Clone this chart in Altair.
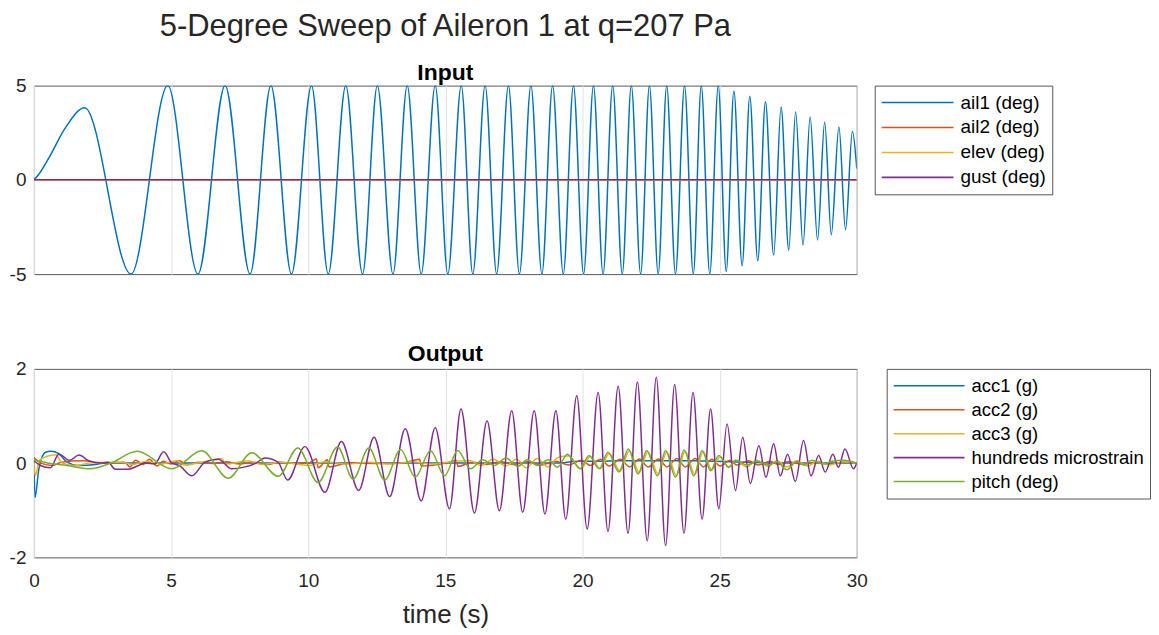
import altair as alt
import pandas as pd

FONT = "Liberation Sans"
TITLE = "5-Degree Sweep of Aileron 1 at q=207 Pa"
X_TITLE = "time (s)"
INPUT_NAMES = ["ail1 (deg)", "ail2 (deg)", "elev (deg)", "gust (deg)"]
OUTPUT_NAMES = ["acc1 (g)", "acc2 (g)", "acc3 (g)", "hundreds microstrain", "pitch (deg)"]
COLORS_IN = ["#0072BD", "#D95319", "#EDB120", "#7E2F8E"]
COLORS_OUT = ["#0072BD", "#D95319", "#EDB120", "#7E2F8E", "#77AC30"]
X_TICKS = [0, 5, 10, 15, 20, 25, 30]
Y_TICKS_IN = [-5, 0, 5]
Y_TICKS_OUT = [-2, 0, 2]

# ---- Input panel (values read at extrema of the sweep) ----
AIL1_T = [0, 0.18, 0.55, 1.15, 1.85, 3.54, 4.88, 5.98, 6.97, 7.88, 8.64, 9.39, 10.12, 10.73,
          11.37, 11.98, 12.52, 13.09, 13.61, 14.12, 14.63, 15.09, 15.58, 16.0, 16.45, 16.87,
          17.30, 17.70, 18.12, 18.52, 18.91, 19.30, 19.67, 20.04, 20.40, 20.75, 21.10, 21.45,
          21.78, 22.12, 22.44, 22.76, 23.07, 23.39, 23.72, 24.04, 24.33, 24.64, 24.95, 25.24,
          25.52, 25.82, 26.10, 26.39, 26.67, 26.97, 27.24, 27.52, 27.77, 28.04, 28.30, 28.57,
          28.83, 29.07, 29.35, 29.59, 29.84, 30.0]
AIL1_V = [0, 0.3, 1.18, 2.77, 3.83, -5, 5, -5, 5, -5, 5, -5, 5, -5,
          5, -5, 5, -5, 5, -5, 5, -5, 5, -5, 5, -5,
          5, -5, 5, -5, 5, -5, 5, -5, 5, -5, 5, -5,
          5, -5, 5, -5, 5, -5, 5, -5, 5, -5, 5, -4.85,
          4.71, -4.55, 4.44, -4.29, 4.14, -3.99, 3.86, -3.72, 3.60, -3.46, 3.33, -3.19,
          3.07, -2.91, 2.80, -2.65, 2.56, 0.6]
AIL2_T = [0, 30]
AIL2_V = [0, 0]
ELEV_T = [0, 30]
ELEV_V = [0, 0]
GUST_T = [0, 30]
GUST_V = [0, 0]

# ---- Output panel ----
ACC1_T = [0, 0.04, 0.18, 0.42, 0.61, 0.91, 1.15, 1.64, 2.24, 2.6, 5.0, 10.0, 15.0, 19.0,
          19.9, 20.6, 21.33, 22.03, 22.73, 23.39, 24.06, 24.67, 25.33, 26.0, 27.0, 30.0]
ACC1_V = [0.05, -0.73, -0.12, 0.23, 0.25, 0.2, 0.05, -0.05, -0.03, 0.0, 0.0, 0.0, 0.0, 0.0,
          0.04, 0.04, 0.05, 0.05, 0.05, 0.05, 0.05, 0.04, 0.03, 0.02, 0.0, 0.0]

ACC2_T = [0, 0.25, 0.67, 1.0, 1.8, 2.5, 3.3, 3.5, 3.7, 4.0, 4.2, 4.5, 4.7, 5.0, 5.3, 5.6,
          6.0, 6.5, 7.0, 7.5, 8.0, 8.5, 9.0, 9.5, 10.0, 10.3, 10.36, 10.7, 10.76, 11.5, 12.5,
          13.5, 14.06, 14.12, 15.0, 15.4, 15.46, 16.0, 16.5, 17.0, 17.5, 18.0, 18.5, 19.0,
          19.5, 19.96, 20.29, 20.66, 20.98, 21.38, 21.72, 22.08, 22.39, 22.78, 23.08, 23.44,
          23.75, 24.11, 24.41, 24.72, 25.02, 25.38, 25.63, 26.05, 26.41, 26.84, 27.14, 27.5,
          28.0, 28.5, 29.0, 29.5, 30.0]
ACC2_V = [0.12, 0.0, -0.05, 0.02, 0.05, 0.0, 0.02, -0.08, 0.06, -0.03, 0.08, -0.06, 0.04,
          -0.02, 0.05, -0.04, 0.02, -0.01, 0.03, -0.02, 0.02, -0.03, 0.02, -0.01, 0.0, 0.09,
          -0.1, 0.07, -0.08, 0.01, -0.01, 0.01, 0.08, -0.06, 0.0, 0.06, -0.07, 0.02, -0.03,
          0.03, -0.03, 0.03, -0.04, 0.04, -0.04, 0.06, -0.05, 0.08, -0.06, 0.08, -0.08, 0.09,
          -0.08, 0.09, -0.08, 0.1, -0.08, 0.1, -0.08, 0.08, -0.06, 0.06, -0.04, 0.05, -0.04,
          0.04, -0.03, 0.03, -0.02, 0.02, -0.02, 0.02, 0.0]

ACC3_T = [0, 0.05, 0.2, 0.45, 0.8, 1.03, 1.5, 2.0, 2.6, 3.2, 3.6, 4.1, 4.6, 5.2, 5.5, 6.1,
          6.85, 7.0, 7.8, 8.3, 9.0, 9.6, 10.0, 10.6, 11.4, 12.2, 13.0, 13.8, 14.5, 15.2, 15.9,
          16.3, 16.75, 17.2, 17.6, 17.95, 18.35, 18.75, 19.1, 19.49, 19.95, 20.28, 20.65,
          20.97, 21.37, 21.71, 22.07, 22.38, 22.77, 23.07, 23.43, 23.74, 24.1, 24.4, 24.71,
          25.01, 25.33, 25.58, 26.0, 26.36, 26.79, 27.09, 27.45, 27.82, 28.2, 28.6, 29.0,
          29.5, 30.0]
ACC3_V = [0.05, -0.27, 0.05, 0.14, 0.18, 0.0, -0.05, 0.0, 0.02, 0.02, -0.03, 0.04, -0.02,
          0.05, -0.04, 0.02, 0.1, -0.02, 0.05, -0.03, 0.02, -0.02, -0.05, 0.03, -0.02, 0.02,
          -0.02, 0.03, -0.02, 0.03, 0.05, -0.05, 0.08, -0.06, 0.08, -0.1, 0.1, -0.08, 0.12,
          0.15, -0.12, 0.14, -0.12, 0.2, -0.17, 0.26, -0.2, 0.24, -0.24, 0.24, -0.27, 0.25,
          -0.24, 0.24, -0.14, 0.13, -0.08, 0.06, -0.08, 0.06, -0.07, 0.05, -0.08, 0.05,
          -0.06, 0.04, -0.04, 0.03, 0.0]

STRAIN_T = [0, 0.24, 0.6, 0.91, 1.3, 1.64, 2.0, 2.45, 2.7, 2.97, 3.45, 3.82, 4.06, 4.4, 4.73,
            5.03, 5.3, 5.76, 6.24, 6.73, 7.2, 7.7, 8.1, 8.42, 8.9, 9.25, 9.88, 10.61, 11.21,
            11.84, 12.40, 12.97, 13.54, 14.12, 14.63, 15.15, 15.57, 16.06, 16.52, 16.97, 17.42,
            17.82, 18.24, 18.63, 19.03, 19.39, 19.79, 20.17, 20.57, 20.93, 21.30, 21.66, 22.0,
            22.36, 22.69, 23.03, 23.36, 23.70, 24.03, 24.36, 24.67, 24.97, 25.27, 25.58, 25.84,
            26.12, 26.43, 26.69, 26.97, 27.21, 27.48, 27.76, 28.06, 28.33, 28.61, 28.85, 29.13,
            29.33, 29.57, 29.88, 30.0]
STRAIN_V = [0.05, -0.05, -0.1, 0.19, 0.06, 0.17, 0.05, 0.0, 0.02, -0.13, -0.13, -0.05, 0.0,
            -0.02, 0.24, 0.0, -0.05, -0.27, 0.02, 0.08, -0.12, -0.08, 0.0, 0.11, 0.02, -0.36,
            0.35, -0.62, 0.46, -0.58, 0.55, -0.71, 0.73, -0.80, 0.75, -0.97, 1.15, -1.06, 0.90,
            -1.01, 1.11, -1.04, 1.11, -1.08, 1.11, -1.19, 1.43, -1.40, 1.50, -1.45, 1.63, -1.49,
            1.72, -1.65, 1.82, -1.75, 1.67, -1.49, 1.50, -1.19, 1.15, -0.97, 0.83, -0.58, 0.55,
            -0.43, 0.37, -0.30, 0.41, -0.27, 0.19, -0.39, 0.48, -0.27, 0.16, -0.19, 0.19,
            -0.09, 0.30, -0.12, 0.0]

PITCH_T = [0, 0.6, 1.2, 2.06, 2.8, 3.76, 5.03, 6.12, 7.09, 7.94, 8.91, 9.62, 10.36, 11.07,
           11.64, 12.21, 12.79, 13.37, 13.90, 14.46, 14.97, 15.45, 15.92, 16.36, 16.79, 17.21,
           17.64, 17.98, 18.36, 18.75, 19.09, 19.45, 19.91, 20.24, 20.61, 20.93, 21.33, 21.67,
           22.03, 22.34, 22.73, 23.03, 23.39, 23.70, 24.06, 24.36, 24.67, 24.97, 25.33, 25.58,
           26.0, 26.36, 26.79, 27.09, 27.45, 27.82, 28.06, 28.36, 28.8, 29.1, 29.52, 30.0]
PITCH_V = [0.07, -0.01, -0.05, -0.12, 0.0, 0.25, -0.12, 0.26, -0.32, 0.22, -0.28, 0.32, -0.41,
           0.34, -0.34, 0.32, -0.36, 0.29, -0.30, 0.26, -0.27, 0.27, -0.12, 0.07, -0.05, 0.11,
           -0.07, 0.07, -0.05, 0.07, -0.09, 0.19, -0.12, 0.16, -0.12, 0.23, -0.19, 0.30, -0.23,
           0.27, -0.27, 0.27, -0.30, 0.28, -0.27, 0.27, -0.16, 0.16, -0.09, 0.06, -0.04, 0.04,
           -0.04, 0.03, -0.14, 0.04, -0.04, 0.06, -0.02, 0.04, 0.06, 0.0]


def long_frame(names, ts, vs):
    rows = []
    for name, t_list, v_list in zip(names, ts, vs):
        for t, v in zip(t_list, v_list):
            rows.append({"t": t, "v": v, "series": name})
    return pd.DataFrame(rows)


df_in = long_frame(INPUT_NAMES, [AIL1_T, AIL2_T, ELEV_T, GUST_T], [AIL1_V, AIL2_V, ELEV_V, GUST_V])
df_out = long_frame(OUTPUT_NAMES, [ACC1_T, ACC2_T, ACC3_T, STRAIN_T, PITCH_T],
                    [ACC1_V, ACC2_V, ACC3_V, STRAIN_V, PITCH_V])

y_axis_common = dict(ticks=False, tickSize=0, domain=False, grid=False, title=None,
                     labelFont=FONT, labelFontSize=19, labelColor="#262626", labelPadding=8,
                     labelExpr="'' + datum.value")


def legend(x, font_size, sym_len, row_pad):
    return alt.Legend(orient="none", legendX=x, legendY=0, title=None, symbolType="stroke",
                      symbolSize=sym_len * sym_len, symbolStrokeWidth=1.6, labelFont=FONT,
                      labelFontSize=font_size, labelColor="black", labelOffset=6, padding=6,
                      strokeColor="#555555", fillColor="white", clipHeight=22, rowPadding=row_pad,
                      labelLimit=400, symbolOpacity=1)


def panel(df, names, colors, x_axis, y_domain, y_ticks, leg, title):
    base = alt.Chart(df).mark_line(interpolate="monotone", strokeWidth=1.5, clip=True).encode(
        x=alt.X("t:Q", scale=alt.Scale(domain=[0, 30], nice=False, zero=False), axis=x_axis),
        y=alt.Y("v:Q", scale=alt.Scale(domain=y_domain, nice=False),
                axis=alt.Axis(values=y_ticks, **y_axis_common)),
        color=alt.Color("series:N", sort=names,
                        scale=alt.Scale(domain=names, range=colors), legend=leg),
    )
    # one layer per series so later series are drawn on top, as in the original
    layers = [base.transform_filter(alt.datum.series == name) for name in names]
    return alt.layer(*layers).properties(width=825, height=189, title=title)


top_x_axis = alt.Axis(values=X_TICKS, labels=False, ticks=False, tickSize=0, domain=False,
                      grid=True, gridColor="#e2e2e2", gridWidth=1, title=None)
bottom_x_axis = alt.Axis(values=X_TICKS, ticks=False, tickSize=0, domain=False, grid=True,
                         gridColor="#e2e2e2", gridWidth=1, labelFont=FONT, labelFontSize=19,
                         labelColor="#262626", labelPadding=14, labelFlush=False,
                         labelExpr="'' + datum.value",
                         title=X_TITLE, titleFont=FONT, titleFontSize=26,
                         titleFontWeight="normal", titleColor="#262626", titlePadding=11)

top = panel(
    df_in, INPUT_NAMES, COLORS_IN, top_x_axis, [-5, 5], Y_TICKS_IN, legend(843, 19, 72, 3),
    alt.TitleParams(text=TITLE, subtitle="Input", anchor="middle", frame="group",
                    font=FONT, fontSize=31, fontWeight="normal", color="#262626",
                    subtitleFont=FONT, subtitleFontSize=23, subtitleFontWeight="bold",
                    subtitleColor="black", subtitlePadding=19, offset=-9),
)

bottom = panel(
    df_out, OUTPUT_NAMES, COLORS_OUT, bottom_x_axis, [-2, 2], Y_TICKS_OUT,
    legend(855, 18.5, 71, 2),
    alt.TitleParams(text="Output", anchor="middle", frame="group", font=FONT,
                    fontSize=23, fontWeight="bold", color="black", offset=-6),
)

chart = alt.vconcat(top, bottom, spacing=57).resolve_scale(
    color="independent", x="independent", y="independent"
).resolve_legend(color="independent").properties(
    padding={"left": 0, "top": 1, "right": 0, "bottom": 0},
    background="white",
).configure_view(stroke="#595959", strokeWidth=1)

chart.save("out.html", embed_options={"renderer": "svg", "actions": False})
